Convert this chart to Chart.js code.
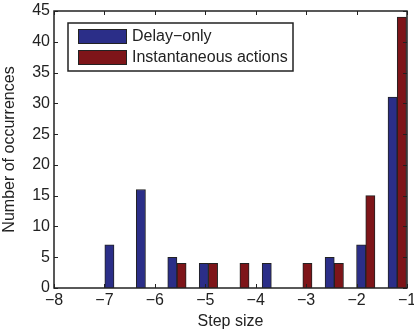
<!DOCTYPE html>
<html>
<head>
<meta charset="utf-8">
<script src="https://cdn.jsdelivr.net/npm/chart.js@4.4.0/dist/chart.umd.min.js"></script>
<style>
    html, body { margin: 0; padding: 0; background: #fff; }
    #wrap { width: 414px; height: 333px; }
</style>
</head>
<body>
<div id="wrap"><canvas id="myChart_stepsize"></canvas></div>
<script>
// bin centres
const stepCenters = [-6.81, -6.186, -5.562, -4.938, -4.314, -3.69, -3.066, -2.442, -1.818, -1.194];
const delayOnly = [7, 16, 5, 4, 0, 4, 0, 5, 7, 31];
const instantActions = [0, 0, 4, 4, 4, 0, 4, 4, 15, 44];
const xTicks = [-8, -7, -6, -5, -4, -3, -2, -1];
const yTicks = [0, 5, 10, 15, 20, 25, 30, 35, 40, 45];

const FONT = 'Liberation Sans, Arial, sans-serif';

// frame + inward ticks like matlab
const frameTicks = {
    id: 'frameTicks',
    afterDatasetsDraw: function(chart) {
        const ctx = chart.ctx;
        const a = chart.chartArea;
        const xs = chart.scales.x;
        const ys = chart.scales.y;
        ctx.save();
        ctx.strokeStyle = '#222';
        ctx.lineWidth = 1;
        ctx.beginPath();
        xTicks.forEach(function(v) {
            const px = Math.round(xs.getPixelForValue(v)) + 0.5;
            ctx.moveTo(px, a.bottom); ctx.lineTo(px, a.bottom - 4);
            ctx.moveTo(px, a.top); ctx.lineTo(px, a.top + 4);
        });
        yTicks.forEach(function(v) {
            const py = Math.round(ys.getPixelForValue(v)) + 0.5;
            ctx.moveTo(a.left, py); ctx.lineTo(a.left + 4, py);
            ctx.moveTo(a.right, py); ctx.lineTo(a.right - 4, py);
        });
        ctx.stroke();
        ctx.lineWidth = 1.5;
        ctx.strokeRect(a.left, a.top, a.right - a.left, a.bottom - a.top);
        ctx.restore();
    }
};

// legend box inside the plot (top left)
const boxLegend = {
    id: 'boxLegend',
    afterDraw: function(chart) {
        const ctx = chart.ctx;
        const x0 = 68, y0 = 23;
        const w = 225, h = 48;
        ctx.save();
        ctx.fillStyle = '#fff';
        ctx.fillRect(x0, y0, w, h);
        ctx.strokeStyle = '#222';
        ctx.lineWidth = 1.5;
        ctx.strokeRect(x0, y0, w, h);
        ctx.font = '16px ' + FONT;
        ctx.textBaseline = 'middle';
        chart.data.datasets.forEach(function(ds, i) {
            const sy = y0 + 6 + i * 21;
            ctx.fillStyle = ds.backgroundColor;
            ctx.fillRect(x0 + 10, sy, 49, 15);
            ctx.lineWidth = 1;
            ctx.strokeRect(x0 + 10.5, sy + 0.5, 48, 14);
            ctx.fillStyle = '#222';
            ctx.fillText(ds.label, x0 + 64, sy + 8);
        });
        ctx.restore();
    }
};

const data = {
    datasets: [{
        label: 'Delay\u2212only',
        data: stepCenters.map(function(x, i) { return { x: x, y: delayOnly[i] }; }),
        backgroundColor: '#2b2e88',
        borderColor: '#222',
        borderWidth: 1,
        barThickness: 9.2
    }, {
        label: 'Instantaneous actions',
        data: stepCenters.map(function(x, i) { return { x: x, y: instantActions[i] }; }),
        backgroundColor: '#7e1519',
        borderColor: '#222',
        borderWidth: 1,
        barThickness: 9.2
    }]
};

const config = {
    type: 'bar',
    data: data,
    plugins: [frameTicks, boxLegend],
    options: {
        responsive: true,
        maintainAspectRatio: false,
        animation: false,
        layout: { padding: { left: 0, right: 7, top: 11, bottom: 0 } },
        plugins: {
            legend: { display: false },
            tooltip: { enabled: false }
        },
        scales: {
            x: {
                type: 'linear',
                offset: false,
                min: -8,
                max: -1,
                afterBuildTicks: function(scale) {
                    scale.ticks = xTicks.map(function(v) { return { value: v }; });
                },
                ticks: {
                    color: '#222',
                    font: { family: FONT, size: 16 },
                    padding: 3,
                    maxRotation: 0,
                    callback: function(v) { return String(v).replace('-', '\u2212'); }
                },
                grid: { display: false, drawTicks: false },
                border: { display: false },
                title: {
                    display: true,
                    text: 'Step size',
                    color: '#222',
                    font: { family: FONT, size: 16 },
                    padding: { top: 0, bottom: 2 }
                },
                afterFit: function(scale) {
                    scale.height = 45;
                    scale.paddingLeft = 0;
                    scale.paddingRight = 0;
                }
            },
            y: {
                min: 0,
                max: 45,
                afterBuildTicks: function(scale) {
                    scale.ticks = yTicks.map(function(v) { return { value: v }; });
                },
                ticks: {
                    color: '#222',
                    font: { family: FONT, size: 16 },
                    padding: 4
                },
                grid: { display: false, drawTicks: false },
                border: { display: false },
                title: {
                    display: true,
                    text: 'Number of occurrences',
                    color: '#222',
                    font: { family: FONT, size: 16 },
                    padding: { top: 0, bottom: 2 }
                },
                afterFit: function(scale) {
                    scale.width = 54;
                    scale.paddingTop = 0;
                    scale.paddingBottom = 0;
                }
            }
        }
    }
};

const myChart = new Chart(
    document.getElementById('myChart_stepsize'),
    config
);
</script>
</body>
</html>
